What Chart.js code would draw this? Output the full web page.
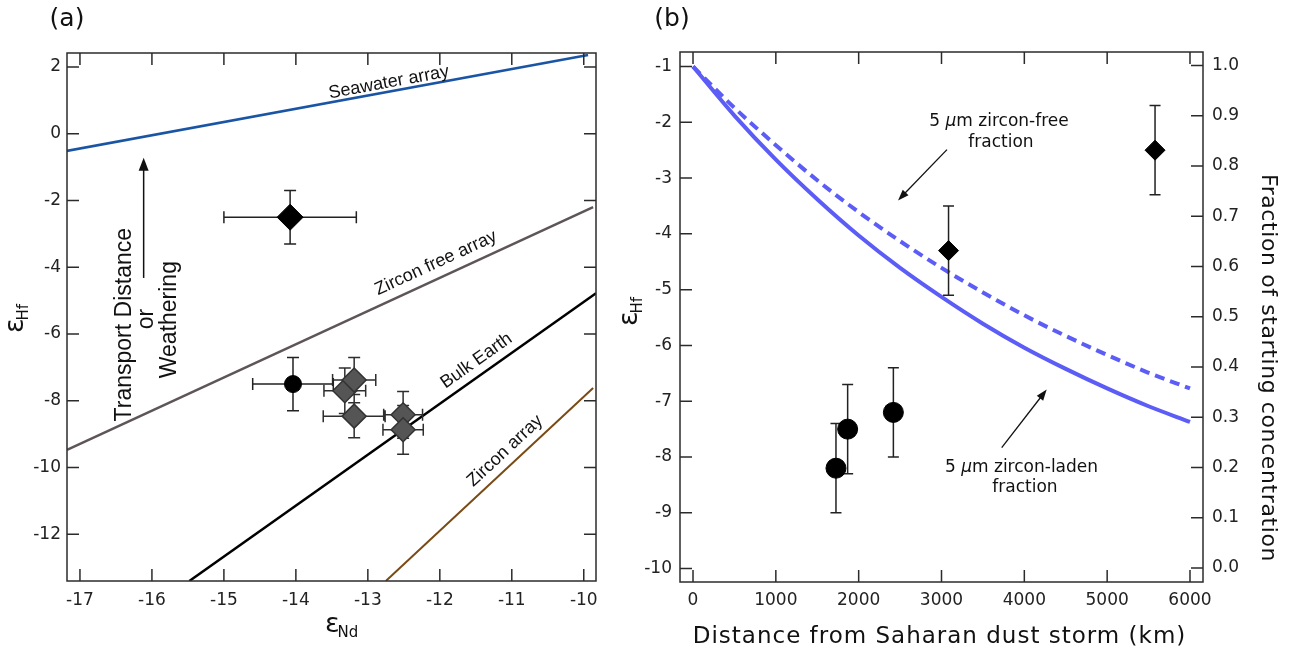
<!DOCTYPE html>
<html>
<head>
<meta charset="utf-8">
<script src="https://cdn.jsdelivr.net/npm/chart.js@4.4.1/dist/chart.umd.min.js"></script>
<style>
  html, body { margin: 0; padding: 0; background: #fff; }
  #wrap { position: relative; width: 1290px; height: 651px; overflow: hidden; }
  canvas { position: absolute; top: 0; }
  #chart-a { left: 0; }
  #chart-b { left: 610px; }
</style>
</head>
<body>
<div id="wrap">
  <canvas id="chart-a" width="610" height="651"></canvas>
  <canvas id="chart-b" width="680" height="651"></canvas>
</div>
<script>
// ---- panel (a): eps Nd vs eps Hf ----
const ndTicks = [-17, -16, -15, -14, -13, -12, -11, -10];
const hfTicksA = [-12, -10, -8, -6, -4, -2, 0, 2];

// reference arrays (two end points each)
const seawaterNd = [-17.2, -9.94];
const seawaterHf = [-0.52, 2.36];
const zirconFreeNd = [-17.18, -9.87];
const zirconFreeHf = [-9.47, -2.2];
const bulkEarthNd = [-15.48, -9.83];
const bulkEarthHf = [-13.4, -4.78];
const zirconNd = [-12.75, -9.87];
const zirconHf = [-13.4, -7.62];

// samples
const diamondNd = [-14.08];
const diamondHf = [-2.5];
const diamondNdErr = [0.92];
const diamondHfErr = [0.8];

const circleNd = [-14.04];
const circleHf = [-7.5];
const circleNdErr = [0.56];
const circleHfErr = [0.8];

const grayNd = [-13.32, -13.19, -13.19, -12.51, -12.51];
const grayHf = [-7.7, -7.38, -8.46, -8.42, -8.87];
const grayNdErr = [0.29, 0.3, 0.43, 0.27, 0.28];
const grayHfErr = [0.68, 0.68, 0.65, 0.7, 0.73];

// ---- panel (b): eps Hf vs distance ----
const distTicks = [0, 1000, 2000, 3000, 4000, 5000, 6000];
const hfTicksB = [-10, -9, -8, -7, -6, -5, -4, -3, -2, -1];
const fracTicks = [0, 0.1, 0.2, 0.3, 0.4, 0.5, 0.6, 0.7, 0.8, 0.9, 1.0];

const curveKm = [0, 500, 1000, 1500, 2000, 2500, 3000, 3500, 4000, 4500, 5000, 5500, 6000];
const ladenHf = [-1.0, -1.88, -2.67, -3.38, -4.03, -4.61, -5.13, -5.61, -6.04, -6.42, -6.77, -7.09, -7.37];
const freeHf = [-1.0, -1.74, -2.41, -3.04, -3.61, -4.13, -4.61, -5.05, -5.46, -5.83, -6.17, -6.49, -6.77];

const circleKm = [1726, 1867, 2419];
const circleHfB = [-8.2, -7.5, -7.2];
const circleErrB = [0.8, 0.8, 0.8];

const diamondKm = [3085, 5578];
const diamondHfB = [-4.3, -2.5];
const diamondErrB = [0.8, 0.8];

const TICK = 12;
const pts = (xs, ys) => xs.map((x, i) => ({ x, y: ys[i] }));

Chart.defaults.font.family = '"DejaVu Sans", sans-serif';
Chart.defaults.color = '#222';

// error bars under each marker set
const errorBars = {
  id: 'errorBars',
  beforeDatasetDraw(chart, args) {
    const ds = chart.data.datasets[args.index];
    if (!ds.errX && !ds.errY) return;
    const { ctx } = chart;
    const xs = chart.scales.x, ys = chart.scales.y;
    const cap = ds.cap || 6;
    ctx.save();
    ctx.strokeStyle = ds.errColor || '#222';
    ctx.lineWidth = 1.5;
    ctx.beginPath();
    args.meta.data.forEach((pt, i) => {
      const d = ds.data[i];
      if (ds.errY) {
        const t = ys.getPixelForValue(d.y + ds.errY[i]);
        const b = ys.getPixelForValue(d.y - ds.errY[i]);
        ctx.moveTo(pt.x, t); ctx.lineTo(pt.x, b);
        ctx.moveTo(pt.x - cap, t); ctx.lineTo(pt.x + cap, t);
        ctx.moveTo(pt.x - cap, b); ctx.lineTo(pt.x + cap, b);
      }
      if (ds.errX) {
        const l = xs.getPixelForValue(d.x - ds.errX[i]);
        const r = xs.getPixelForValue(d.x + ds.errX[i]);
        ctx.moveTo(l, pt.y); ctx.lineTo(r, pt.y);
        ctx.moveTo(l, pt.y - cap); ctx.lineTo(l, pt.y + cap);
        ctx.moveTo(r, pt.y - cap); ctx.lineTo(r, pt.y + cap);
      }
    });
    ctx.stroke();
    ctx.restore();
  }
};

// box round the plot with inward ticks
function frameTicks(sides) {
  return {
    id: 'frameTicks',
    afterDraw(chart) {
      const { ctx, chartArea: a } = chart;
      ctx.save();
      ctx.strokeStyle = '#2b2b2b';
      ctx.lineWidth = 1.5;
      ctx.strokeRect(a.left, a.top, a.right - a.left, a.bottom - a.top);
      ctx.beginPath();
      sides.forEach(([id, side]) => {
        const s = chart.scales[id];
        s.ticks.forEach(t => {
          const p = s.getPixelForValue(t.value);
          if (side === 'bottom') { ctx.moveTo(p, a.bottom); ctx.lineTo(p, a.bottom - TICK); }
          if (side === 'top') { ctx.moveTo(p, a.top); ctx.lineTo(p, a.top + TICK); }
          if (side === 'left') { ctx.moveTo(a.left, p); ctx.lineTo(a.left + TICK, p); }
          if (side === 'right') { ctx.moveTo(a.right, p); ctx.lineTo(a.right - TICK, p); }
        });
      });
      ctx.stroke();
      ctx.restore();
    }
  };
}

function epsTitle(ctx, x, y, sub, rot) {
  ctx.save();
  ctx.translate(x, y);
  ctx.rotate(rot);
  ctx.fillStyle = '#111';
  ctx.textAlign = 'left';
  ctx.textBaseline = 'alphabetic';
  ctx.font = '27px "DejaVu Sans"';
  ctx.fillText('ε', 0, 0);
  const w = ctx.measureText('ε').width;
  ctx.font = '15px "DejaVu Sans"';
  ctx.fillText(sub, w - 2, 5);
  ctx.restore();
}

function arrow(ctx, x0, y0, x1, y1, head, half) {
  const ang = Math.atan2(y1 - y0, x1 - x0);
  const c = Math.cos(ang), s = Math.sin(ang);
  ctx.beginPath();
  ctx.moveTo(x0, y0);
  ctx.lineTo(x1 - head * 0.8 * c, y1 - head * 0.8 * s);
  ctx.stroke();
  ctx.beginPath();
  ctx.moveTo(x1, y1);
  ctx.lineTo(x1 - head * c + half * s, y1 - head * s - half * c);
  ctx.lineTo(x1 - head * c - half * s, y1 - head * s + half * c);
  ctx.closePath();
  ctx.fill();
}

// label sitting on a reference line
function lineLabel(ctx, xs, ys, nds, hfs, startNd, gap, text) {
  const x0 = xs.getPixelForValue(nds[0]), y0 = ys.getPixelForValue(hfs[0]);
  const x1 = xs.getPixelForValue(nds[1]), y1 = ys.getPixelForValue(hfs[1]);
  const ang = Math.atan2(y1 - y0, x1 - x0);
  const px = xs.getPixelForValue(startNd);
  const py = y0 + (y1 - y0) * (px - x0) / (x1 - x0);
  ctx.save();
  ctx.translate(px, py);
  ctx.rotate(ang);
  ctx.font = '18px "Liberation Sans", Arial, sans-serif';
  ctx.fillStyle = '#111';
  ctx.textAlign = 'left';
  ctx.textBaseline = 'alphabetic';
  ctx.fillText(text, 0, -gap);
  ctx.restore();
}

const notesA = {
  id: 'notesA',
  afterDraw(chart) {
    const { ctx } = chart;
    const xs = chart.scales.x, ys = chart.scales.y;
    lineLabel(ctx, xs, ys, seawaterNd, seawaterHf, -13.52, 4, 'Seawater array');
    lineLabel(ctx, xs, ys, zirconFreeNd, zirconFreeHf, -12.8, 10, 'Zircon free array');
    lineLabel(ctx, xs, ys, bulkEarthNd, bulkEarthHf, -11.85, 9, 'Bulk Earth');
    lineLabel(ctx, xs, ys, zirconNd, zirconHf, -11.45, 9, 'Zircon array');

    // transport / weathering arrow
    ctx.save();
    ctx.strokeStyle = '#111';
    ctx.fillStyle = '#111';
    ctx.lineWidth = 1.5;
    const ax = xs.getPixelForValue(-16.115);
    arrow(ctx, ax, ys.getPixelForValue(-4.32), ax, ys.getPixelForValue(-0.72), 13, 5);
    ctx.font = '23px "Liberation Sans", Arial, sans-serif';
    ctx.textAlign = 'center';
    ctx.textBaseline = 'middle';
    [['Transport Distance', -16.38, -5.72], ['or', -16.07, -5.55], ['Weathering', -15.76, -5.57]].forEach(([t, nd, hf]) => {
      ctx.save();
      ctx.translate(xs.getPixelForValue(nd), ys.getPixelForValue(hf));
      ctx.rotate(-Math.PI / 2);
      ctx.fillText(t, 0, 0);
      ctx.restore();
    });

    // panel letter and axis titles
    ctx.font = '25px "DejaVu Sans"';
    ctx.textAlign = 'center';
    ctx.textBaseline = 'alphabetic';
    ctx.fillText('(a)', 67, 26);
    ctx.restore();
    epsTitle(ctx, 325, 632, 'Nd', 0);
    epsTitle(ctx, 23, 333, 'Hf', -Math.PI / 2);
  }
};

new Chart(document.getElementById('chart-a'), {
  type: 'scatter',
  data: {
    datasets: [
      { data: pts(diamondNd, diamondHf), errX: diamondNdErr, errY: diamondHfErr, cap: 6,
        pointStyle: 'rectRot', pointRadius: 13, backgroundColor: '#000', borderColor: '#000', borderWidth: 1 },
      { data: pts(circleNd, circleHf), errX: circleNdErr, errY: circleHfErr, cap: 6,
        pointStyle: 'circle', pointRadius: 8.5, backgroundColor: '#000', borderColor: '#000', borderWidth: 1 },
      { data: pts(grayNd, grayHf), errX: grayNdErr, errY: grayHfErr, cap: 6, errColor: '#2e2e2e',
        pointStyle: 'rectRot', pointRadius: 12, backgroundColor: '#555555', borderColor: '#333', borderWidth: 1.5 },
      { data: pts(seawaterNd, seawaterHf), showLine: true, pointRadius: 0, borderColor: '#1a55a5', borderWidth: 2.5 },
      { data: pts(zirconFreeNd, zirconFreeHf), showLine: true, pointRadius: 0, borderColor: '#5e5559', borderWidth: 2.5 },
      { data: pts(bulkEarthNd, bulkEarthHf), showLine: true, pointRadius: 0, borderColor: '#000', borderWidth: 2.5 },
      { data: pts(zirconNd, zirconHf), showLine: true, pointRadius: 0, borderColor: '#7a4a15', borderWidth: 2 }
    ]
  },
  options: {
    responsive: false,
    animation: false,
    events: [],
    layout: { padding: { top: 53, right: 5, left: 0, bottom: 0 } },
    plugins: { legend: { display: false }, tooltip: { enabled: false } },
    scales: {
      x: {
        type: 'linear', min: -17.18, max: -9.83,
        grid: { display: false, drawTicks: false }, border: { display: false },
        afterBuildTicks: ax => { ax.ticks = ndTicks.map(v => ({ value: v })); },
        afterFit: ax => { ax.height = 70; },
        ticks: { font: { size: 17 }, padding: 9, autoSkip: false, maxRotation: 0 }
      },
      y: {
        type: 'linear', min: -13.4, max: 2.42,
        grid: { display: false, drawTicks: false }, border: { display: false },
        afterBuildTicks: ax => { ax.ticks = hfTicksA.map(v => ({ value: v })); },
        afterFit: ax => { ax.width = 67; },
        ticks: { font: { size: 17 }, padding: 6, autoSkip: false }
      }
    }
  },
  plugins: [errorBars, frameTicks([['x', 'bottom'], ['x', 'top'], ['y', 'left'], ['y', 'right']]), notesA]
});

// text runs with mixed fonts, centred on cx
function mixedText(ctx, runs, cx, y) {
  let total = 0;
  runs.forEach(([t, f]) => { ctx.font = f; total += ctx.measureText(t).width; });
  let x = cx - total / 2;
  ctx.textAlign = 'left';
  runs.forEach(([t, f]) => { ctx.font = f; ctx.fillText(t, x, y); x += ctx.measureText(t).width; });
}

const notesB = {
  id: 'notesB',
  afterDraw(chart) {
    const { ctx } = chart;
    const xs = chart.scales.x, ys = chart.scales.y;
    const X = v => xs.getPixelForValue(v), Y = v => ys.getPixelForValue(v);
    const f = '17px "DejaVu Sans"', fi = 'italic 17px "DejaVu Sans"';
    ctx.save();
    ctx.fillStyle = '#111';
    ctx.strokeStyle = '#111';
    ctx.lineWidth = 1.3;
    ctx.textBaseline = 'middle';
    mixedText(ctx, [['5 ', f], ['\u03bc', fi], ['m zircon-free', f]], X(3694), Y(-1.99));
    mixedText(ctx, [['fraction', f]], X(3718), Y(-2.37));
    arrow(ctx, X(3066), Y(-2.49), X(2475), Y(-3.4), 11, 4);
    mixedText(ctx, [['5 ', f], ['\u03bc', fi], ['m zircon-laden', f]], X(3966), Y(-8.19));
    mixedText(ctx, [['fraction', f]], X(4008), Y(-8.55));
    arrow(ctx, X(3727), Y(-7.83), X(4270), Y(-6.79), 11, 4);

    ctx.textBaseline = 'alphabetic';
    ctx.font = '25px "DejaVu Sans"';
    ctx.textAlign = 'center';
    ctx.fillText('(b)', 62, 26);
    ctx.font = '23px "DejaVu Sans"';
    ctx.letterSpacing = '1px';
    ctx.fillText('Distance from Saharan dust storm (km)', (chart.chartArea.left + chart.chartArea.right) / 2 - 2, 643);
    ctx.font = '22px "DejaVu Sans"';
    ctx.letterSpacing = '0.6px';
    ctx.save();
    ctx.translate(652, (chart.chartArea.top + chart.chartArea.bottom) / 2 + 51);
    ctx.rotate(Math.PI / 2);
    ctx.fillText('Fraction of starting concentration', 0, 0);
    ctx.restore();
    ctx.letterSpacing = '0px';
    ctx.restore();
    epsTitle(ctx, 27, 326, 'Hf', -Math.PI / 2);
  }
};

new Chart(document.getElementById('chart-b'), {
  type: 'scatter',
  data: {
    datasets: [
      { data: pts(diamondKm, diamondHfB), errY: diamondErrB, cap: 5.5,
        pointStyle: 'rectRot', pointRadius: 10, backgroundColor: '#000', borderColor: '#000', borderWidth: 1 },
      { data: pts(circleKm, circleHfB), errY: circleErrB, cap: 5.5,
        pointStyle: 'circle', pointRadius: 10, backgroundColor: '#000', borderColor: '#000', borderWidth: 1 },
      { data: pts(curveKm, freeHf), showLine: true, pointRadius: 0, borderColor: '#5c5cf6', borderWidth: 4,
        borderDash: [10, 6], cubicInterpolationMode: 'monotone' },
      { data: pts(curveKm, ladenHf), showLine: true, pointRadius: 0, borderColor: '#5c5cf6', borderWidth: 4,
        cubicInterpolationMode: 'monotone' }
    ]
  },
  options: {
    responsive: false,
    animation: false,
    events: [],
    layout: { padding: { top: 52, right: 0, left: 0, bottom: 0 } },
    plugins: { legend: { display: false }, tooltip: { enabled: false } },
    scales: {
      x: {
        type: 'linear', min: -157, max: 6157,
        grid: { display: false, drawTicks: false }, border: { display: false },
        afterBuildTicks: ax => { ax.ticks = distTicks.map(v => ({ value: v })); },
        afterFit: ax => { ax.height = 69; },
        ticks: { font: { size: 17 }, padding: 8, autoSkip: false, maxRotation: 0, callback: v => String(v) }
      },
      y: {
        type: 'linear', position: 'left', min: -10.24, max: -0.74,
        grid: { display: false, drawTicks: false }, border: { display: false },
        afterBuildTicks: ax => { ax.ticks = hfTicksB.map(v => ({ value: v })); },
        afterFit: ax => { ax.width = 70; },
        ticks: { font: { size: 17 }, padding: 8, autoSkip: false }
      },
      y2: {
        type: 'linear', position: 'right', display: true, min: -0.028, max: 1.027,
        grid: { display: false, drawTicks: false }, border: { display: false },
        afterBuildTicks: ax => { ax.ticks = fracTicks.map(v => ({ value: v })); },
        afterFit: ax => { ax.width = 87; },
        ticks: { font: { size: 17 }, padding: 9, autoSkip: false, callback: v => v.toFixed(1) }
      }
    }
  },
  plugins: [errorBars, frameTicks([['x', 'bottom'], ['x', 'top'], ['y', 'left'], ['y2', 'right']]), notesB]
});
</script>
</body>
</html>
